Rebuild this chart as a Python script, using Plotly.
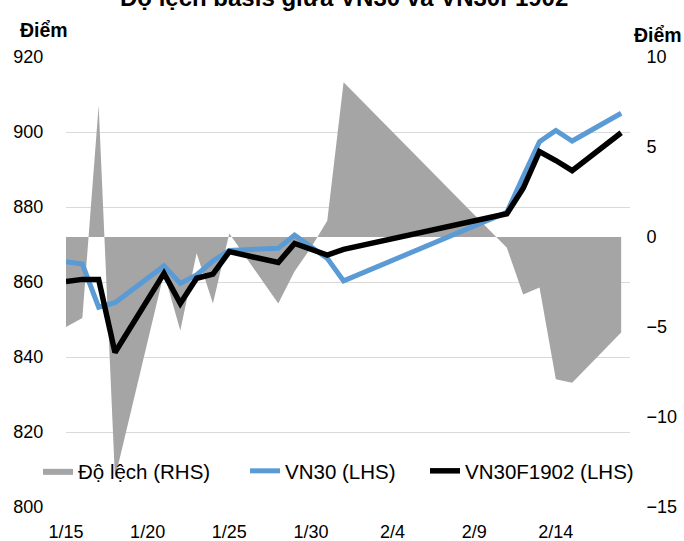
import plotly.graph_objects as go

dates = ['2019-01-15', '2019-01-16', '2019-01-17', '2019-01-18', '2019-01-21',
         '2019-01-22', '2019-01-23', '2019-01-24', '2019-01-25', '2019-01-28',
         '2019-01-29', '2019-01-30', '2019-01-31', '2019-02-01', '2019-02-11',
         '2019-02-12', '2019-02-13', '2019-02-14', '2019-02-15', '2019-02-18']

vn30 = [865.4, 864.8, 853.3, 854.5, 864.3, 859.6, 861.9, 865.6, 868.4, 869.0,
        872.5, 869.4, 866.3, 860.3, 878.6, 888.1, 897.4, 900.4, 897.6, 905.0]

vn30f1902 = [860.1, 860.7, 860.7, 841.2, 862.3, 854.3, 861.0, 862.1, 868.1, 865.2,
             870.3, 868.7, 867.2, 868.7, 878.2, 885.0, 894.8, 892.4, 889.7, 899.8]

do_lech = [-5.0, -4.5, 7.3, -13.4, -2.0, -5.2, -0.9, -3.7, 0.2, -3.7,
           -1.9, -0.6, 0.9, 8.6, -0.6, -3.2, -2.8, -7.9, -8.1, -5.3]

tick_dates = ['2019-01-15', '2019-01-20', '2019-01-25', '2019-01-30',
              '2019-02-04', '2019-02-09', '2019-02-14']
tick_labels = ['1/15', '1/20', '1/25', '1/30', '2/4', '2/9', '2/14']

series_names = ['Độ lệch (RHS)', 'VN30 (LHS)', 'VN30F1902 (LHS)']
title_text = 'Độ lệch basis giữa VN30 và VN30F1902'
unit_text = 'Điểm'

FONT = 'Arial, Liberation Sans, sans-serif'

fig = go.Figure()
fig.add_trace(go.Scatter(
    x=dates, y=do_lech, name=series_names[0], mode='lines', yaxis='y',
    fill='tozeroy', fillcolor='#a5a5a5', line=dict(width=0, color='#a5a5a5'),
    legend='legend'))
fig.add_trace(go.Scatter(
    x=dates, y=vn30, name=series_names[1], mode='lines', yaxis='y2',
    line=dict(color='#5b9bd5', width=5), legend='legend2'))
fig.add_trace(go.Scatter(
    x=dates, y=vn30f1902, name=series_names[2], mode='lines', yaxis='y2',
    line=dict(color='#000000', width=5.5), legend='legend3'))

W, H = 684, 541
L, R, T, B = 66, 630, 57, 507
pw, ph = R - L, B - T


def legend_box(px):
    return dict(orientation='h', xref='container', yref='container',
                x=px / W, y=(H - 471) / H, xanchor='left', yanchor='middle',
                bgcolor='rgba(0,0,0,0)', font=dict(size=20.5), itemwidth=30)


fig.update_layout(
    width=W, height=H,
    margin=dict(l=L, r=W - R, t=T, b=H - B, autoexpand=False),
    paper_bgcolor='white', plot_bgcolor='white',
    font=dict(family=FONT, size=18, color='#000000'),
    showlegend=True,
    legend=legend_box(38),
    legend2=legend_box(245),
    legend3=legend_box(425),
    xaxis=dict(type='date', range=['2019-01-15', '2019-02-18 13:00'],
               tickvals=tick_dates, ticktext=tick_labels,
               showgrid=False, zeroline=False, showline=False,
               ticks='outside', ticklen=8, tickcolor='rgba(0,0,0,0)',
               tickfont=dict(size=18)),
    yaxis=dict(side='right', range=[-15, 10], tick0=-15, dtick=5,
               showgrid=False, zeroline=False, showline=False,
               ticks='outside', ticklen=12, tickcolor='rgba(0,0,0,0)',
               tickfont=dict(size=18)),
    yaxis2=dict(overlaying='y', side='left', range=[800, 920], tick0=800, dtick=20,
                showgrid=True, gridcolor='#d9d9d9', gridwidth=1.3,
                zeroline=False, showline=False,
                ticks='outside', ticklen=18, tickcolor='rgba(0,0,0,0)',
                tickfont=dict(size=18)),
    annotations=[
        dict(text='<b>' + title_text + '</b>', xref='paper', yref='paper',
             x=(344 - L) / pw, y=(B + 2) / ph, xanchor='center', yanchor='middle',
             showarrow=False, font=dict(size=24)),
        dict(text='<b>' + unit_text + '</b>', xref='paper', yref='paper',
             x=(44 - L) / pw, y=(B - 30) / ph, xanchor='center', yanchor='middle',
             showarrow=False, font=dict(size=19.5)),
        dict(text='<b>' + unit_text + '</b>', xref='paper', yref='paper',
             x=(658 - L) / pw, y=(B - 35) / ph, xanchor='center', yanchor='middle',
             showarrow=False, font=dict(size=19.5)),
    ],
)

fig.write_html('out.html', config={'displayModeBar': False},
               post_script="document.body.style.margin='0px';")
